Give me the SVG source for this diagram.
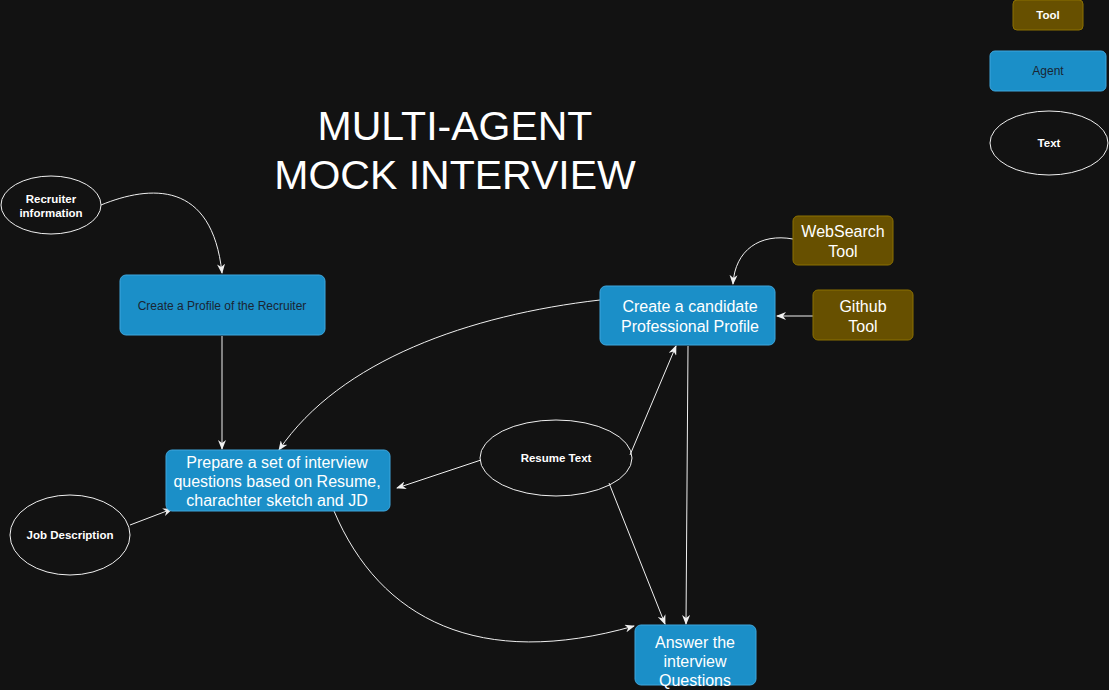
<svg xmlns="http://www.w3.org/2000/svg" width="1109" height="690" viewBox="0 0 1109 690">
<defs>
<style>
.tool{fill:#675000;stroke:#8c7000;stroke-width:1}
.agent{fill:#1b8fc8;stroke:#3fa6dd;stroke-width:1}
.txt{fill:none;stroke:#f0f0f0;stroke-width:1}
.edge{fill:none;stroke:#f0f0f0;stroke-width:1}
.lbl{font-family:"Liberation Sans",Arial,sans-serif;text-anchor:middle}
.w15{font-size:16px;fill:#ffffff}
.b11{font-size:11.5px;font-weight:bold;fill:#ffffff}
.d11{font-size:12px;fill:#1a2533}
.title{font-size:41px;fill:#ffffff}
</style>
<marker id="arr" viewBox="0 0 10 8" refX="9" refY="4" markerWidth="10" markerHeight="8" markerUnits="userSpaceOnUse" orient="auto">
<path d="M0,0 L10,4 L0,8 L3,4 z" fill="#f0f0f0"/>
</marker>
</defs>
<rect width="1109" height="690" fill="#121212"/>

<g id="title">
<text class="lbl title" x="455" y="140">MULTI-AGENT</text>
<text class="lbl title" x="455" y="189">MOCK INTERVIEW</text>
</g>

<g id="legend-tool">
<rect class="tool" x="1013" y="0" width="70" height="30" rx="4"/>
<text class="lbl b11" x="1048" y="19">Tool</text>
</g>
<g id="legend-agent">
<rect class="agent" x="990" y="51" width="116" height="40" rx="5"/>
<text class="lbl d11" x="1048" y="75">Agent</text>
</g>
<g id="legend-text">
<ellipse class="txt" cx="1049" cy="143" rx="59" ry="32"/>
<text class="lbl b11" x="1049" y="147">Text</text>
</g>

<g id="connectors">
<path class="edge" d="M101,205 C150,185 212,180 222,273" marker-end="url(#arr)"/>
<path class="edge" d="M222,336 L222,449" marker-end="url(#arr)"/>
<path class="edge" d="M600,300 C470,315 340,360 279,450" marker-end="url(#arr)"/>
<path class="edge" d="M793,239 C760,233 735,250 733,284" marker-end="url(#arr)"/>
<path class="edge" d="M813,316 L777,316" marker-end="url(#arr)"/>
<path class="edge" d="M130,525 L172,509" marker-end="url(#arr)"/>
<path class="edge" d="M481,460 L397,488" marker-end="url(#arr)"/>
<path class="edge" d="M630,455 L676,346" marker-end="url(#arr)"/>
<path class="edge" d="M609,483 L665,624" marker-end="url(#arr)"/>
<path class="edge" d="M688,346 L686,624" marker-end="url(#arr)"/>
<path class="edge" d="M334,511 C380,620 480,670 634,626" marker-end="url(#arr)"/>
</g>

<g id="recruiter-info">
<ellipse class="txt" cx="51" cy="205" rx="50" ry="29"/>
<text class="lbl b11" x="51" y="203">Recruiter</text>
<text class="lbl b11" x="51" y="217">information</text>
</g>

<g id="recruiter-profile">
<rect class="agent" x="120" y="275" width="205" height="60" rx="6"/>
<text class="lbl d11" x="222" y="310">Create a Profile of the Recruiter</text>
</g>

<g id="candidate-profile">
<rect class="agent" x="600" y="286" width="175" height="59" rx="6"/>
<text class="lbl w15" x="690" y="312">Create a candidate</text>
<text class="lbl w15" x="690" y="332">Professional Profile</text>
</g>

<g id="websearch-tool">
<rect class="tool" x="793" y="216" width="100" height="49" rx="5"/>
<text class="lbl w15" x="843" y="237">WebSearch</text>
<text class="lbl w15" x="843" y="257">Tool</text>
</g>

<g id="github-tool">
<rect class="tool" x="813" y="290" width="100" height="50" rx="5"/>
<text class="lbl w15" x="863" y="312">Github</text>
<text class="lbl w15" x="863" y="332">Tool</text>
</g>

<g id="prepare-questions">
<rect class="agent" x="166" y="450" width="224" height="61" rx="6"/>
<text class="lbl w15" x="277" y="468">Prepare a set of interview</text>
<text class="lbl w15" x="277" y="487">questions based on Resume,</text>
<text class="lbl w15" x="277" y="506">charachter sketch and JD</text>
</g>

<g id="job-description">
<ellipse class="txt" cx="70" cy="535" rx="60" ry="40"/>
<text class="lbl b11" x="70" y="539">Job Description</text>
</g>

<g id="resume-text">
<ellipse class="txt" cx="556" cy="458" rx="76" ry="38"/>
<text class="lbl b11" x="556" y="462">Resume Text</text>
</g>

<g id="answer-questions">
<rect class="agent" x="635" y="625" width="121" height="60" rx="6"/>
<text class="lbl w15" x="695" y="648">Answer the</text>
<text class="lbl w15" x="695" y="667">interview</text>
<text class="lbl w15" x="695" y="686">Questions</text>
</g>
</svg>
